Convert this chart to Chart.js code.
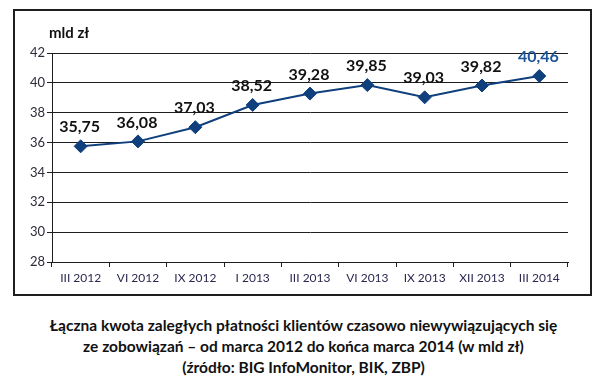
<!DOCTYPE html>
<html>
<head>
<meta charset="utf-8">
<script src="https://cdn.jsdelivr.net/npm/chart.js@4/dist/chart.umd.min.js"></script>
<style>
  html, body { margin: 0; padding: 0; background: #fff; }
  body { width: 607px; height: 387px; position: relative; overflow: hidden; }
  #box { position: absolute; left: 13px; top: 9px; width: 575px; height: 283px; border: 2px solid #1e1e1e; }
  #box canvas { display: block; }
  #caption { position: absolute; left: 0; top: 315px; width: 607px; text-align: center;
    font-family: Lato, "Open Sans", sans-serif; font-weight: bold; font-size: 15.5px; line-height: 21px; color: #111; }
</style>
</head>
<body>
<div id="box"><canvas id="c" width="575" height="283"></canvas></div>
<div id="caption">Łączna kwota zaległych płatności klientów czasowo niewywiązujących się<br>ze zobowiązań – od marca 2012 do końca marca 2014 (w mld zł)<br>(źródło: BIG InfoMonitor, BIK, ZBP)</div>
<script>
const categories = ["III 2012", "VI 2012", "IX 2012", "I 2013", "III 2013", "VI 2013", "IX 2013", "XII 2013", "III 2014"];
const values = [35.75, 36.08, 37.03, 38.52, 39.28, 39.85, 39.03, 39.82, 40.46];
const yTicks = [28, 30, 32, 34, 36, 38, 40, 42];
const unitLabel = "mld zł";

const lineColor = "#0f3f7c";

const labelPlugin = {
  id: "valueLabels",
  afterDatasetsDraw(chart) {
    const ctx = chart.ctx;
    const meta = chart.getDatasetMeta(0);
    ctx.save();
    ctx.font = "bold 16px Lato, 'Open Sans', sans-serif";
    ctx.textAlign = "center";
    ctx.textBaseline = "middle";
    meta.data.forEach((pt, i) => {
      ctx.fillStyle = (i === values.length - 1) ? "#1b5596" : "#111";
      ctx.fillText(values[i].toFixed(2).replace(".", ","), pt.x - 1, pt.y - 19);
    });
    // unit label
    ctx.fillStyle = "#111";
    ctx.textAlign = "left";
    ctx.font = "bold 15px Lato, 'Open Sans', sans-serif";
    ctx.fillText(unitLabel, 34, 22);
    ctx.restore();
  }
};

new Chart(document.getElementById("c"), {
  type: "line",
  data: {
    labels: categories,
    datasets: [{
      data: values,
      borderColor: lineColor,
      backgroundColor: lineColor,
      borderWidth: 2,
      pointStyle: "rectRot",
      pointRadius: 6.5,
      pointBorderWidth: 1,
      pointBackgroundColor: lineColor,
      pointBorderColor: lineColor,
      tension: 0,
      fill: false
    }]
  },
  options: {
    responsive: false,
    animation: false,
    layout: { padding: { top: 42, right: 22, bottom: 0, left: 0 } },
    plugins: { legend: { display: false }, tooltip: { enabled: false }, title: { display: false } },
    scales: {
      x: {
        type: "category",
        offset: true,
        afterFit(s) { s.height = 32; },
        grid: { display: true, drawOnChartArea: false, drawTicks: true, tickLength: 5, offset: true, color: "#1e1e1e", lineWidth: 1 },
        border: { display: true, color: "#1e1e1e", width: 1 },
        ticks: { color: "#2a2850", font: { family: "Lato, 'Open Sans', sans-serif", size: 12 }, padding: 4, maxRotation: 0, autoSkip: false }
      },
      y: {
        min: 28, max: 42,
        afterFit(s) { s.width = 37; },
        afterBuildTicks(s) { s.ticks = yTicks.map(v => ({ value: v })); },
        grid: { color: "#1e1e1e", lineWidth: 1, tickLength: 5, drawTicks: true },
        border: { display: true, color: "#1e1e1e", width: 1 },
        ticks: { color: "#2b2b3a", font: { family: "Lato, 'Open Sans', sans-serif", size: 13 }, padding: 2 }
      }
    }
  },
  plugins: [labelPlugin]
});
</script>
</body>
</html>
